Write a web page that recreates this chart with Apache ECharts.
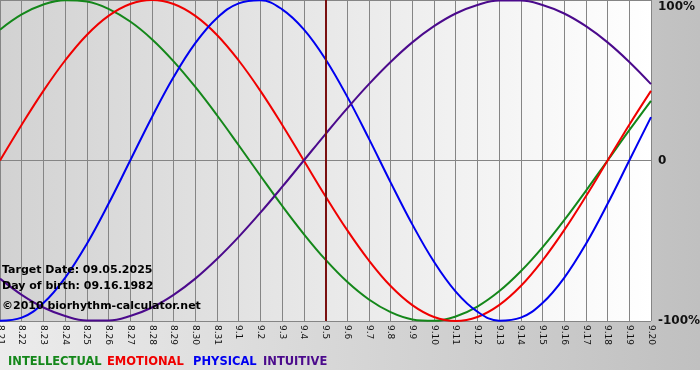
<!DOCTYPE html>
<html>
<head>
<meta charset="utf-8">
<script src="https://cdn.jsdelivr.net/npm/echarts@6/dist/echarts.min.js"></script>
<style>html,body{margin:0;padding:0;background:#fff}#c{width:700px;height:380px}</style>
</head>
<body>
<div id="c"></div>
<script>
var days = ['8.21','8.22','8.23','8.24','8.25','8.26','8.27','8.28','8.29','8.30','8.31',
  '9.1','9.2','9.3','9.4','9.5','9.6','9.7','9.8','9.9','9.10','9.11','9.12','9.13','9.14','9.15','9.16','9.17','9.18','9.19','9.20'];
var targetDay = '9.5';
var intellectual = [81.5,91.0,97.2,99.9,99.0,94.5,86.6,75.6,61.8,45.8,28.2,9.5,-9.5,-28.2,-45.8,-61.8,-75.6,-86.6,-94.5,-99.0,-99.9,-97.2,-91.0,-81.5,-69.0,-54.1,-37.2,-18.9,0,18.9,37.2];
var emotional = [0,22.3,43.4,62.3,78.2,90.1,97.5,100,97.5,90.1,78.2,62.3,43.4,22.3,0,-22.3,-43.4,-62.3,-78.2,-90.1,-97.5,-100,-97.5,-90.1,-78.2,-62.3,-43.4,-22.3,0,22.3,43.4];
var physical = [-99.8,-97.9,-88.8,-73.1,-52.0,-27.0,0,27.0,52.0,73.1,88.8,97.9,99.8,94.2,81.7,63.1,39.8,13.6,-13.6,-39.8,-63.1,-81.7,-94.2,-99.8,-97.9,-88.8,-73.1,-52.0,-27.0,0,27.0];
var intuitive = [-73.6,-83.7,-91.6,-96.9,-99.7,-99.7,-96.9,-91.6,-83.7,-73.6,-61.4,-47.6,-32.5,-16.5,0,16.5,32.5,47.6,61.4,73.6,83.7,91.6,96.9,99.7,99.7,96.9,91.6,83.7,73.6,61.4,47.6];
var yTicks = {'100':'100%','0':'0','-100':'-100%'};
var seriesNames = ['INTELLECTUAL','EMOTIONAL','PHYSICAL','INTUITIVE'];
var seriesColors = ['#14871a','#f00000','#0000f0','#4b0a8c'];
var infoLines = ['Target Date: 09.05.2025','Day of birth: 09.16.1982','\u00a92010 biorhythm-calculator.net'];

var FONT = 'DejaVu Sans';
var chart = echarts.init(document.getElementById('c'), null, {renderer:'canvas'});
var dataSets = [intellectual, emotional, physical, intuitive];
var series = dataSets.map(function(d, i){
  return {
    name: seriesNames[i], type:'line', data:d, smooth:0.4, showSymbol:false, silent:true,
    lineStyle:{color:seriesColors[i], width:2}, itemStyle:{color:seriesColors[i]}, z:3
  };
});
series.push({
  type:'line', data:[], silent:true,
  markLine:{symbol:['none','none'], silent:true, label:{show:false},
    lineStyle:{color:'#7a1010', width:2, type:'solid'},
    data:[{xAxis:targetDay}]}
});
var legendX = [8, 107, 193, 263];
var graphics = [{
  type:'rect', shape:{x:0,y:0,width:700,height:370}, z:-10, silent:true,
  style:{fill:new echarts.graphic.LinearGradient(0,0,1,0,[{offset:0,color:'#ececec'},{offset:1,color:'#c0c0c0'}])}
}];
seriesNames.forEach(function(n,i){
  graphics.push({type:'text', left:legendX[i], top:356, z:10,
    style:{text:n, fill:seriesColors[i], font:'bold 11.5px "'+FONT+'"'}});
});
var infoTop = [265, 281, 301];
infoLines.forEach(function(t,i){
  graphics.push({type:'text', left:2, top:infoTop[i], z:10,
    style:{text:t, fill:'#000', font:'bold 11px "'+FONT+'"'}});
});

chart.setOption({
  animation:false,
  backgroundColor:'#ffffff',
  grid:{left:0, right:49, top:0, bottom:59, show:true, borderWidth:0, outerBoundsMode:'none', containLabel:false,
    backgroundColor:new echarts.graphic.LinearGradient(0,0,1,0,[{offset:0,color:'#d2d2d2'},{offset:1,color:'#ffffff'}])},
  xAxis:{type:'category', data:days, boundaryGap:false,
    axisLine:{show:true, lineStyle:{color:'#858585', width:1}},
    axisTick:{show:true, length:3, interval:0, lineStyle:{color:'#858585'}},
    axisLabel:{interval:0, rotate:-90, fontSize:9, fontFamily:FONT, color:'#111', margin:4, hideOverlap:false},
    splitLine:{show:true, interval:0, lineStyle:{color:'#858585', width:1}}
  },
  yAxis:{type:'value', position:'right', min:-100, max:100, interval:100,
    axisLine:{show:false}, axisTick:{show:false},
    splitLine:{show:true, lineStyle:{color:'#858585', width:1}},
    axisLabel:{margin:7, fontSize:12, fontWeight:'bold', fontFamily:FONT, color:'#111',
      formatter:function(v){ var t = yTicks[String(v)]; return v===100 ? '{t|'+t+'}' : t; },
      rich:{t:{padding:[14,0,0,0], fontSize:12, fontWeight:'bold', fontFamily:FONT, color:'#111'}}
    }
  },
  graphic:graphics,
  series:series
});
</script>
</body>
</html>
